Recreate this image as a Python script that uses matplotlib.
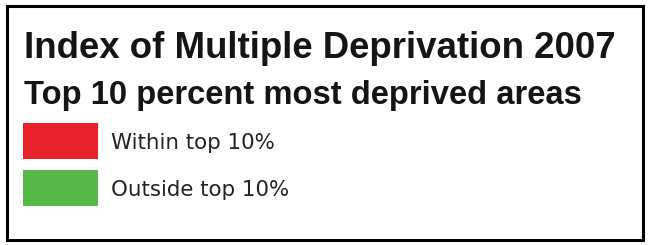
import matplotlib.pyplot as plt
from matplotlib.patches import Rectangle

plt.rcParams['font.family'] = ['Liberation Sans', 'DejaVu Sans']

title = "Index of Multiple Deprivation 2007"
subtitle = "Top 10 percent most deprived areas"
labels = ["Within top 10%", "Outside top 10%"]
colors = ["#e8202a", "#56b947"]

fig = plt.figure(figsize=(6.5, 2.45), dpi=100)
ax = fig.add_axes([0, 0, 1, 1])
ax.set_xlim(0, 650)
ax.set_ylim(245, 0)
ax.axis('off')

# frame
ax.add_patch(Rectangle((6.5, 6.5), 636, 233, fill=False, edgecolor='black', linewidth=2.2))

ax.text(24, 57.5, title, fontsize=26.4, fontweight='bold', va='baseline', ha='left', color='#151515')
ax.text(23.5, 104.3, subtitle, fontsize=23.6, fontweight='bold', va='baseline', ha='left', color='#151515')

# legend swatches
for i, (lab, col) in enumerate(zip(labels, colors)):
    y0 = 123 + i * 47
    ax.add_patch(Rectangle((23, y0), 75, 36, facecolor=col, edgecolor='none'))
    ax.text(111, y0 + 25.5, lab, fontsize=15.4, va='baseline', ha='left',
            color='#222222', family='DejaVu Sans')

fig.savefig('out.png', dpi=100)
